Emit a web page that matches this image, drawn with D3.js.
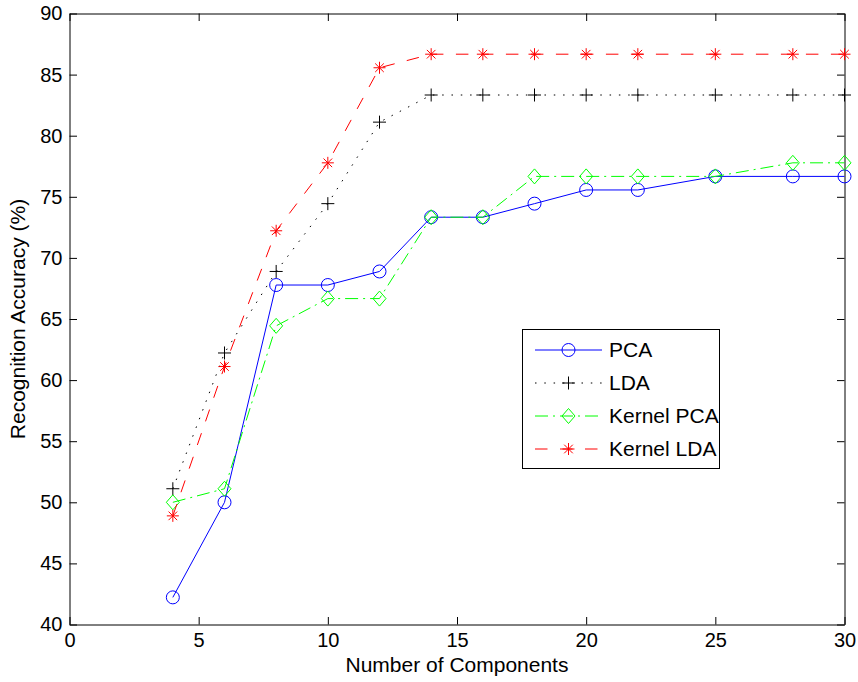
<!DOCTYPE html>
<html>
<head>
<meta charset="utf-8">
<script src="https://cdn.jsdelivr.net/npm/d3@7/dist/d3.min.js"></script>
<style>
  html, body { margin: 0; padding: 0; background: #fff; }
  svg { display: block; }
  text { font-family: "Liberation Sans", Arial, Helvetica, sans-serif; fill: #000; }
</style>
</head>
<body>
<svg id="chart" width="858" height="682"></svg>
<script>
// ---- data ----
const components = [4, 6, 8, 10, 12, 14, 16, 18, 20, 22, 25, 28, 30];
const pcaValues = [42.22, 50.00, 67.78, 67.78, 68.89, 73.33, 73.33, 74.44, 75.56, 75.56, 76.67, 76.67, 76.67];
const ldaValues = [51.11, 62.22, 68.89, 74.44, 81.11, 83.33, 83.33, 83.33, 83.33, 83.33, 83.33, 83.33, 83.33];
const kernelPcaValues = [50.00, 51.11, 64.44, 66.67, 66.67, 73.33, 73.33, 76.67, 76.67, 76.67, 76.67, 77.78, 77.78];
const kernelLdaValues = [48.89, 61.11, 72.22, 77.78, 85.56, 86.67, 86.67, 86.67, 86.67, 86.67, 86.67, 86.67, 86.67];
const seriesNames = ["PCA", "LDA", "Kernel PCA", "Kernel LDA"];
const xTicks = [0, 5, 10, 15, 20, 25, 30];
const yTicks = [40, 45, 50, 55, 60, 65, 70, 75, 80, 85, 90];
const xLabel = "Number of Components";
const yLabel = "Recognition Accuracy (%)";

// ---- styles ----
const styles = [
  { color: "#0000ff", dash: null, marker: "circle" },
  { color: "#000000", dash: "1.5,7.8", marker: "plus" },
  { color: "#00ff00", dash: "13,5,2,5", marker: "diamond" },
  { color: "#ff0000", dash: "12.5,12.5", marker: "star" }
];
const seriesValues = [pcaValues, ldaValues, kernelPcaValues, kernelLdaValues];

const svg = d3.select("#chart");
const mLeft = 69.5, mRight = 844.5, mTop = 13.5, mBottom = 624.5;

const x = d3.scaleLinear().domain([0, 30]).range([mLeft, mRight]);
const y = d3.scaleLinear().domain([40, 90]).range([mBottom, mTop]);

const tickFont = 20;
const labelFont = 21;
const tickLen = 7.5;

// axes
const gx = svg.append("g").attr("transform", `translate(0,${mBottom})`)
  .call(d3.axisBottom(x).tickValues(xTicks).tickSizeInner(-tickLen).tickSizeOuter(0).tickPadding(8).tickFormat(d3.format("d")));
const gy = svg.append("g").attr("transform", `translate(${mLeft},0)`)
  .call(d3.axisLeft(y).tickValues(yTicks).tickSizeInner(-tickLen).tickSizeOuter(0).tickPadding(7).tickFormat(d3.format("d")));
const gt = svg.append("g").attr("transform", `translate(0,${mTop})`)
  .call(d3.axisTop(x).tickValues(xTicks).tickSizeInner(-tickLen).tickSizeOuter(0).tickFormat(""));
const gr = svg.append("g").attr("transform", `translate(${mRight},0)`)
  .call(d3.axisRight(y).tickValues(yTicks).tickSizeInner(-tickLen).tickSizeOuter(0).tickFormat(""));

[gx, gy, gt, gr].forEach(g => {
  g.selectAll("path.domain").attr("stroke", "#000").attr("stroke-width", 1);
  g.selectAll(".tick line").attr("stroke", "#000").attr("stroke-width", 1);
  g.selectAll("text").attr("font-size", tickFont).attr("font-family", "Liberation Sans, Arial, sans-serif").attr("fill", "#000");
});

// marker paths
function markerPath(type) {
  switch (type) {
    case "plus": return "M-6.5,0H6.5M0,-6.5V6.5";
    case "diamond": return "M0,-7.5L6.5,0L0,7.5L-6.5,0Z";
    case "star": return "M-6,0H6M0,-6V6M-4.3,-4.3L4.3,4.3M-4.3,4.3L4.3,-4.3";
  }
  return "";
}
function drawMarker(g, type, color, cx, cy) {
  if (type === "circle") {
    g.append("circle").attr("cx", cx).attr("cy", cy).attr("r", 6.5)
      .attr("fill", "none").attr("stroke", color).attr("stroke-width", 1);
  } else {
    g.append("path").attr("d", markerPath(type)).attr("transform", `translate(${cx},${cy})`)
      .attr("fill", "none").attr("stroke", color).attr("stroke-width", 1);
  }
}

const line = d3.line().x(d => x(d[0])).y(d => y(d[1]));

seriesValues.forEach((vals, i) => {
  const st = styles[i];
  const pts = components.map((c, j) => [c, vals[j]]);
  const g = svg.append("g");
  g.append("path").datum(pts).attr("d", line)
    .attr("fill", "none").attr("stroke", st.color).attr("stroke-width", 1)
    .attr("stroke-dasharray", st.dash);
  pts.forEach(p => drawMarker(g, st.marker, st.color, x(p[0]), y(p[1])));
});

// axis labels
svg.append("text").attr("x", (mLeft + mRight) / 2).attr("y", 672)
  .attr("text-anchor", "middle").attr("font-size", labelFont).text(xLabel);
svg.append("text").attr("transform", `translate(25,${(mTop + mBottom) / 2}) rotate(-90)`)
  .attr("text-anchor", "middle").attr("font-size", labelFont).text(yLabel);

// legend
const lg = svg.append("g");
lg.append("rect").attr("x", 522.5).attr("y", 329.5).attr("width", 197).attr("height", 139)
  .attr("fill", "#fff").attr("stroke", "#000").attr("stroke-width", 1);
seriesNames.forEach((name, i) => {
  const st = styles[i];
  const ly = 350 + i * 33;
  lg.append("line").attr("x1", 535).attr("x2", 602).attr("y1", ly).attr("y2", ly)
    .attr("stroke", st.color).attr("stroke-width", 1).attr("stroke-dasharray", st.dash);
  drawMarker(lg, st.marker, st.color, 568.5, ly);
  lg.append("text").attr("x", 609).attr("y", ly).attr("dy", "0.35em")
    .attr("font-size", labelFont).text(name);
});
</script>
</body>
</html>
